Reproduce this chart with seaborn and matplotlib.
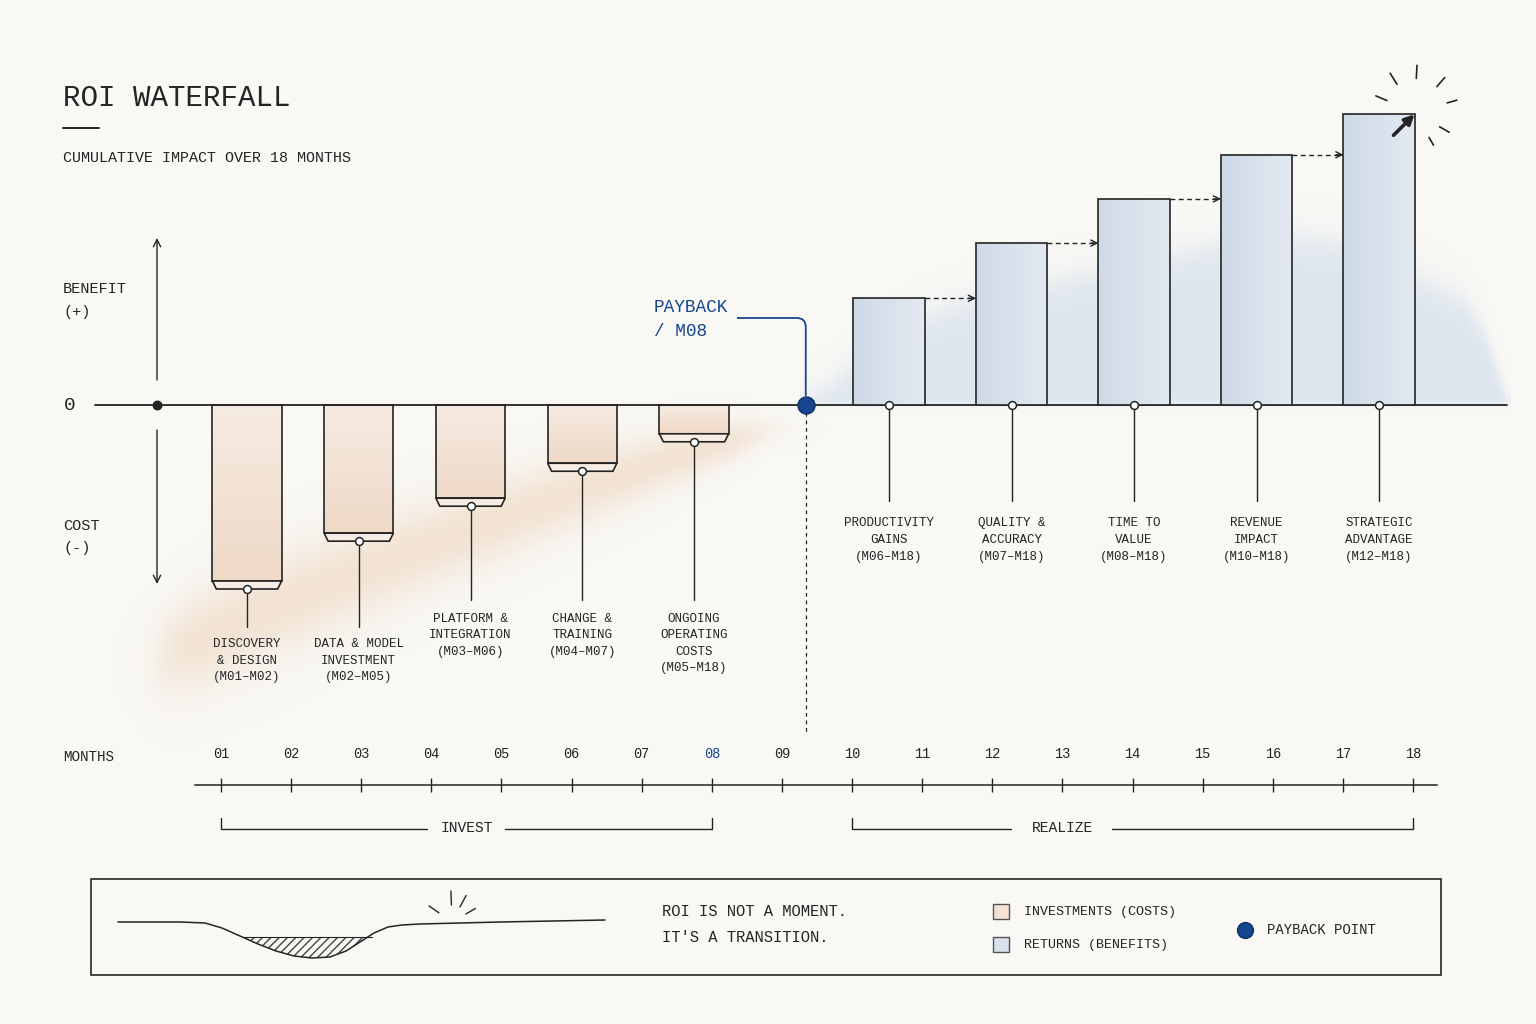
import numpy as np
import pandas as pd
import matplotlib
matplotlib.use("Agg")
import matplotlib.pyplot as plt
import seaborn as sns
from matplotlib.patches import Polygon, Rectangle, PathPatch
from matplotlib.path import Path

# ---------------- data ----------------
cost_labels = ["DISCOVERY\n& DESIGN\n(M01–M02)",
               "DATA & MODEL\nINVESTMENT\n(M02–M05)",
               "PLATFORM &\nINTEGRATION\n(M03–M06)",
               "CHANGE &\nTRAINING\n(M04–M07)",
               "ONGOING\nOPERATING\nCOSTS\n(M05–M18)"]
cost_values = [-100, -74, -55, -36, -20]

benefit_labels = ["PRODUCTIVITY\nGAINS\n(M06–M18)",
                  "QUALITY &\nACCURACY\n(M07–M18)",
                  "TIME TO\nVALUE\n(M08–M18)",
                  "REVENUE\nIMPACT\n(M10–M18)",
                  "STRATEGIC\nADVANTAGE\n(M12–M18)"]
benefit_values = [58, 88, 112, 136, 158]

months = ["01", "02", "03", "04", "05", "06", "07", "08", "09",
          "10", "11", "12", "13", "14", "15", "16", "17", "18"]
payback_month = "08"
phase_names = ["INVEST", "REALIZE"]
phase_start = ["01", "10"]
phase_end = ["08", "18"]

# ---------------- style ----------------
BG = "#f9f8f5"
INK = "#242424"
PEACH = "#f3e2d3"
PEACH_LIP = "#f7ece3"
BLUE = "#d8e1ec"
NAVY = "#15468f"
MONO = ["Liberation Mono", "DejaVu Sans Mono"]

sns.set_theme(style="white")
plt.rcParams["font.family"] = MONO
plt.rcParams["text.color"] = INK

W, H = 1536, 1024
COST0_PX, COST_STEP = 247.0, 111.75   # layout of cost slots
BEN0_PX, BEN_STEP = 889.0, 122.5      # layout of benefit slots
ZERO_PY, UNIT_PY = 405.0, 1.84        # vertical value scale layout
M1_PX, MONTH_PX = 221.0, 70.12        # month axis layout


def Y(py):
    return (ZERO_PY - py) / UNIT_PY


def mpx(m):
    return M1_PX + MONTH_PX * (m - 1)


def slot_axes(x0px, step):
    a = fig.add_axes([0, 0, 1, 1])
    a.set_facecolor("none")
    return a, (lambda px: (px - x0px) / step)


def grad_fill(axis, patch, c_a, c_b, vertical):
    x0, w = patch.get_x(), patch.get_width()
    y0, h = patch.get_y(), patch.get_height()
    t = np.linspace(0, 1, 64)
    cols = (1 - t)[:, None] * np.array(c_a) + t[:, None] * np.array(c_b)
    arr = cols[:, None, :] if vertical else cols[None, :, :]
    lo, hi = min(y0, y0 + h), max(y0, y0 + h)
    im = axis.imshow(arr, extent=(x0, x0 + w, lo, hi), origin="upper",
                     aspect="auto", interpolation="bilinear", zorder=2.9)
    im.set_clip_path(patch)
    patch.set_facecolor("none")


def hexrgb(h):
    h = h.lstrip("#")
    return [int(h[i:i + 2], 16) / 255 for i in (0, 2, 4)]


fig = plt.figure(figsize=(W / 100, H / 100), dpi=100, facecolor=BG)

n_cost = len(cost_values)
n_ben = len(benefit_values)
cost_slots = list(range(n_cost))
pay_slot = n_cost
ben_slots = list(range(n_ben))

# ---------------- cost axes ----------------
ax, XC = slot_axes(COST0_PX, COST_STEP)

# watercolor washes (decoration)
gx = np.linspace(0, W, 768)
gy = np.linspace(0, H, 512)
xx, yy = np.meshgrid(gx, gy)
btx = [800, 830, 870, 920, 980, 1040, 1100, 1160, 1220, 1280, 1330, 1380, 1430, 1465, 1485, 1500, 1510]
bty = [402, 385, 352, 318, 298, 285, 272, 258, 245, 236, 240, 258, 282, 300, 330, 375, 405]
ytop = np.interp(xx, btx, bty, left=3000, right=3000)
a_blue = 0.55 / (1 + np.exp(-(yy - ytop) / 9.0)) / (1 + np.exp((yy - 404) / 1.5))
pcx = [150, 200, 260, 330, 400, 470, 540, 610, 680, 740, 770]
pcy = [662, 640, 612, 584, 556, 530, 505, 480, 456, 438, 430]
phw = [42, 48, 50, 48, 45, 42, 38, 33, 27, 20, 14]
yc = np.interp(xx, pcx, pcy)
hw = np.interp(xx, pcx, phw)
a_peach = 0.55 * np.exp(-((yy - yc) / hw) ** 2) \
    / (1 + np.exp(-(xx - 160) / 10.0)) / (1 + np.exp((xx - 760) / 14.0))
cb = np.array([0.78, 0.84, 0.91])
cp = np.array([0.93, 0.82, 0.72])
alpha = 1 - (1 - a_blue) * (1 - a_peach)
wsum = a_blue + a_peach + 1e-9
rgb = (a_blue[..., None] * cb + a_peach[..., None] * cp) / wsum[..., None]
ax.imshow(np.dstack([rgb, alpha]), extent=(XC(0), XC(W), Y(H), Y(0)), origin="upper",
          aspect="auto", interpolation="bilinear", zorder=0)

cost_df = pd.DataFrame({"slot": cost_slots, "value": cost_values})
sns.barplot(data=cost_df, x="slot", y="value", color=PEACH, native_scale=True,
            width=0.62, saturation=1, errorbar=None, edgecolor=INK, linewidth=1.2,
            ax=ax, zorder=3)

lip_h = 8 / UNIT_PY
lip_in = 4 / COST_STEP
for p in list(ax.patches):
    h = p.get_height()
    x0, w = p.get_x(), p.get_width()
    p.set_height(h + lip_h)
    grad_fill(ax, p, hexrgb("#f6ebe2"), hexrgb("#efd9c7"), vertical=True)
    ax.add_patch(Polygon([(x0, h + lip_h), (x0 + w, h + lip_h),
                          (x0 + w - lip_in, h), (x0 + lip_in, h)],
                         closed=True, fc=PEACH_LIP, ec=INK, lw=1.2, zorder=4))

# zero line & left origin dot
ax.plot([XC(95), XC(1507)], [0, 0], color=INK, lw=1.3, zorder=4)
ax.scatter([XC(157)], [0], s=38, color=INK, zorder=6)

cost_drop = [Y(627), Y(627), Y(600), Y(600), Y(600)]
cost_text = [Y(638), Y(638), Y(613), Y(613), Y(613)]
for s, v, lab, d, t in zip(cost_slots, cost_values, cost_labels, cost_drop, cost_text):
    ax.plot([s, s], [v, d], color=INK, lw=1.0, zorder=2)
    ax.text(s, t, lab, ha="center", va="top", fontsize=9, linespacing=1.5,
            color=INK, zorder=6)
ax.scatter(cost_slots, cost_values, s=32, fc="white", ec=INK, lw=1.1, zorder=6)

# payback marker
ax.plot([pay_slot, pay_slot], [0, Y(735)], color=INK, lw=0.9, ls=(0, (3, 3)), zorder=2)
ax.scatter([pay_slot], [0], s=150, color=NAVY, ec="#0c2f66", lw=1, zorder=7)

ax.set_xlim(XC(0), XC(W))
ax.set_ylim(Y(H), Y(0))
ax.axis("off")

# ---------------- benefit axes ----------------
axb, XB = slot_axes(BEN0_PX, BEN_STEP)
ben_df = pd.DataFrame({"slot": ben_slots, "value": benefit_values})
sns.barplot(data=ben_df, x="slot", y="value", color=BLUE, native_scale=True,
            width=0.58, saturation=1, errorbar=None, edgecolor=INK, linewidth=1.2,
            ax=axb, zorder=3)
for p in list(axb.patches):
    grad_fill(axb, p, hexrgb("#cfdae7"), hexrgb("#e3e9f1"), vertical=False)

bhalf = 0.29
for s, v, lab in zip(ben_slots, benefit_values, benefit_labels):
    axb.plot([s, s], [0, Y(501)], color=INK, lw=1.0, zorder=2)
    axb.text(s, Y(517), lab, ha="center", va="top", fontsize=9, linespacing=1.55,
             color=INK, zorder=6)
axb.scatter(ben_slots, [0] * n_ben, s=32, fc="white", ec=INK, lw=1.1, zorder=6)

for i in range(n_ben - 1):
    xs = ben_slots[i] + bhalf
    xe = ben_slots[i + 1] - bhalf
    yv = benefit_values[i]
    axb.plot([xs, xe - 0.02], [yv, yv], color=INK, lw=1.0, ls=(0, (3.5, 2.5)), zorder=4)
    axb.annotate("", xy=(xe, yv), xytext=(xe - 0.06, yv),
                 arrowprops=dict(arrowstyle="->", color=INK, lw=1.0,
                                 shrinkA=0, shrinkB=0, mutation_scale=11), zorder=5)
axb.set_xlim(XB(0), XB(W))
axb.set_ylim(Y(H), Y(0))
axb.axis("off")

# ---------------- month axis ----------------
axm = fig.add_axes([195 / W, (H - 786) / H, (1437 - 195) / W, 1 / H])
axm.set_facecolor("none")
axm.set_xlim(1 + (195 - M1_PX) / MONTH_PX, 1 + (1437 - M1_PX) / MONTH_PX)
axm.set_ylim(0, 1)
mnum = list(range(1, len(months) + 1))
axm.set_xticks(mnum, months)
axm.set_yticks([])
axm.xaxis.set_ticks_position("top")
axm.tick_params(axis="x", which="major", direction="inout", length=10, width=1.0,
                colors=INK, pad=12, labelsize=9.8, top=True, bottom=False,
                labeltop=True, labelbottom=False)
for sp in ["left", "right", "bottom"]:
    axm.spines[sp].set_visible(False)
axm.spines["top"].set_color(INK)
axm.spines["top"].set_linewidth(1.1)
pi = months.index(payback_month)
axm.get_xticklabels()[pi].set_color(NAVY)
axm.xaxis.get_major_ticks()[pi].tick2line.set_color(NAVY)
for lab in axm.get_xticklabels():
    lab.set_fontfamily(MONO)

# ---------------- overlay (pixel layout) ----------------
ov = fig.add_axes([0, 0, 1, 1])
ov.set_facecolor("none")
ov.set_xlim(0, W)
ov.set_ylim(H, 0)
ov.axis("off")

ov.text(63, 98, "ROI WATERFALL", fontsize=21, va="center", ha="left", color=INK)
ov.plot([63, 99], [128, 128], color=INK, lw=1.4)
ov.text(63, 158, "CUMULATIVE IMPACT OVER 18 MONTHS", fontsize=10.8, va="center", color=INK)

ov.text(63, 289, "BENEFIT", fontsize=11, va="center")
ov.text(63, 312, "(+)", fontsize=11, va="center")
ov.text(63, 526, "COST", fontsize=11, va="center")
ov.text(63, 548, "(-)", fontsize=11, va="center")
ov.text(70, 405, "0", fontsize=14, va="center", ha="center")
ov.annotate("", xy=(157, 238), xytext=(157, 380),
            arrowprops=dict(arrowstyle="->", color=INK, lw=1.0, shrinkA=0, shrinkB=0,
                            mutation_scale=13))
ov.annotate("", xy=(157, 584), xytext=(157, 430),
            arrowprops=dict(arrowstyle="->", color=INK, lw=1.0, shrinkA=0, shrinkB=0,
                            mutation_scale=13))

# payback callout
pay_px = COST0_PX + pay_slot * COST_STEP
ov.text(654, 307, "PAYBACK", fontsize=12.8, color=NAVY, va="center")
ov.text(654, 331, "/ M08", fontsize=12.8, color=NAVY, va="center")
callout = Path([(pay_px, 396), (pay_px, 327), (pay_px, 318), (pay_px - 9, 318), (737, 318)],
               [Path.MOVETO, Path.LINETO, Path.CURVE3, Path.CURVE3, Path.LINETO])
ov.add_patch(PathPatch(callout, fc="none", ec=NAVY, lw=1.3))

# final-bar burst
tip_x = BEN0_PX + (ben_slots[-1] + bhalf) * BEN_STEP
tip_y = ZERO_PY - benefit_values[-1] * UNIT_PY
ov.annotate("", xy=(tip_x, tip_y), xytext=(tip_x - 21, tip_y + 21),
            arrowprops=dict(arrowstyle="-|>", color=INK, lw=2.6, shrinkA=0, shrinkB=0,
                            mutation_scale=14))
for ang, r0, r1 in [(157, 30, 42), (122, 33, 46), (87, 34, 47), (49, 34, 46),
                    (16, 34, 44), (-30, 29, 40), (-60, 29, 38)]:
    a = np.deg2rad(ang)
    ov.plot([tip_x + r0 * np.cos(a), tip_x + r1 * np.cos(a)],
            [tip_y - 2 - r0 * np.sin(a), tip_y - 2 - r1 * np.sin(a)], color=INK, lw=1.2)

# months label and phases
ov.text(63, 757, "MONTHS", fontsize=10.3, va="center")
phase_center = [4.5, 13.0]
for name, s, e, c in zip(phase_names, phase_start, phase_end, phase_center):
    xs, xe = mpx(int(s)), mpx(int(e))
    ov.plot([xs, xs, xe, xe], [818, 829, 829, 818], color=INK, lw=1.0)
    ov.text(mpx(c), 828, name, fontsize=10.5, ha="center", va="center",
            bbox=dict(fc=BG, ec="none", pad=(9 if name == "INVEST" else 14)))

# ---------------- legend box ----------------
ov.add_patch(Rectangle((91, 879), 1350, 96, fc="none", ec=INK, lw=1.2))
sk_x = [118, 180, 205, 222, 240, 258, 276, 294, 312, 330, 346, 360, 374, 388, 402, 420, 500, 605]
sk_y = [922, 922, 923, 928, 936, 944, 951, 956, 958, 957, 951, 942, 933, 927, 925, 924, 922, 920]
ov.plot(sk_x, sk_y, color=INK, lw=1.1)
hx = np.linspace(243, 372, 60)
hy = np.interp(hx, sk_x, sk_y)
ov.fill_between(hx, 937, hy, where=hy >= 937, facecolor="none", edgecolor="#444",
                hatch="////", lw=0)
ov.plot([243, 372], [937, 937], color=INK, lw=0.8)
for ang, r0, r1 in [(145, 16, 28), (92, 17, 31), (62, 17, 30), (30, 16, 27)]:
    a = np.deg2rad(ang)
    ov.plot([452 + r0 * np.cos(a), 452 + r1 * np.cos(a)],
            [922 - r0 * np.sin(a), 922 - r1 * np.sin(a)], color=INK, lw=1.0)

ov.text(662, 912, "ROI IS NOT A MOMENT.", fontsize=11.2, va="center")
ov.text(662, 938, "IT'S A TRANSITION.", fontsize=11.2, va="center")
ov.add_patch(Rectangle((993, 904), 16, 15, fc=PEACH, ec="#555", lw=1))
ov.add_patch(Rectangle((993, 937), 16, 15, fc=BLUE, ec="#555", lw=1))
ov.text(1024, 912, "INVESTMENTS (COSTS)", fontsize=9.6, va="center")
ov.text(1024, 945, "RETURNS (BENEFITS)", fontsize=9.6, va="center")
ov.scatter([1245], [930], s=130, color=NAVY, ec="#0c2f66", lw=1)
ov.text(1267, 930, "PAYBACK POINT", fontsize=10, va="center")

fig.savefig("out.png", dpi=100, facecolor=BG)
